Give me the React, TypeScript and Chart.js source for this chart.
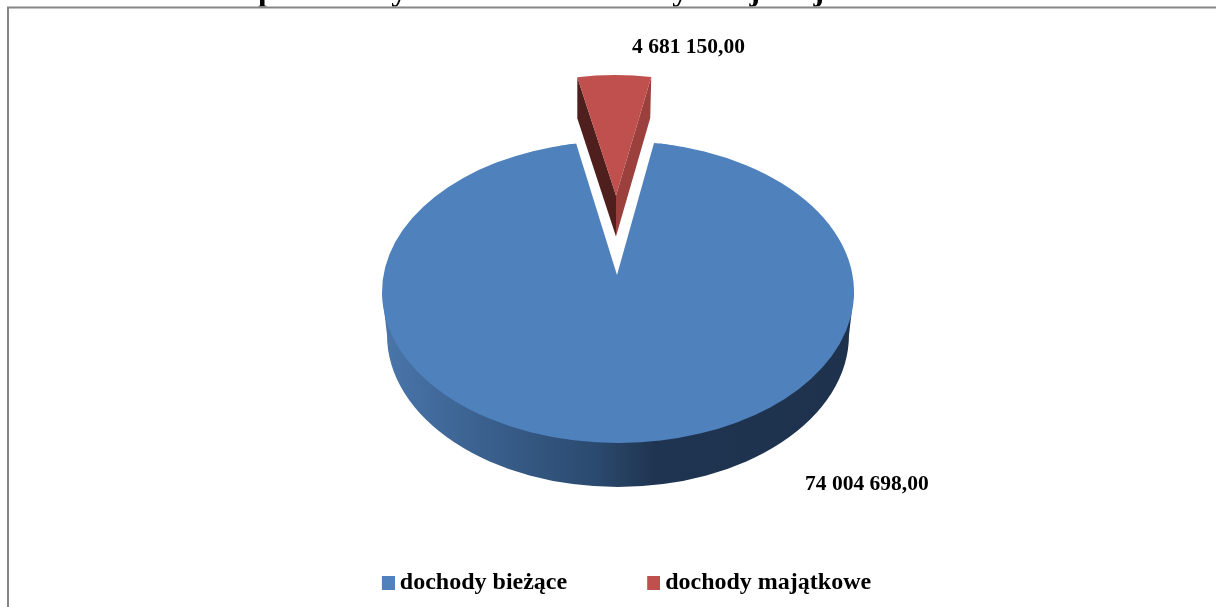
import React, { useEffect, useRef } from "react";
import { Chart, registerables } from "chart.js";

Chart.register(...registerables);

const categories = ["dochody bieżące", "dochody majątkowe"];
const values = [74004698.0, 4681150.0];
const topColors = ["#4F81BD", "#C0504D"];
const titleText = "Struktura planowanych dochodów Gminy Miejskiej Iława na 2012 rok";

const SERIF = '"Liberation Serif", serif';
const BLUE = { x: 618, y: 292, rx: 236, ry: 151 };
const BLUE_FLOOR = { x: 618, y: 335, rx: 231, ry: 152 };
const GAP = { left: [576, 143], right: [654, 143], apex: [617, 275] };
const RED = { x: 616, y: 195.5, rx: 199, ry: 120.5, depth: 41 };
const LABEL_SPOTS = [
  { x: 805, y: 490 },
  { x: 632, y: 53 },
];

function money(v: number) {
  const [i, d] = v.toFixed(2).split(".");
  return i.replace(/\B(?=(\d{3})+$)/g, " ") + "," + d;
}

function swatch(color: string) {
  const c = document.createElement("canvas");
  c.width = 15;
  c.height = 14;
  const g = c.getContext("2d")!;
  g.fillStyle = color;
  g.fillRect(2, 0, 13, 14);
  return c;
}

const pie3d = {
  id: "pie3d",
  beforeDraw(chart: any) {
    const { ctx } = chart;
    ctx.save();
    ctx.fillStyle = "#ffffff";
    ctx.fillRect(0, 0, chart.width, chart.height);
    ctx.restore();
  },
  beforeDatasetsDraw(chart: any) {
    // frame of the chart, which hides all but the top of the title's lower edge
    const { ctx } = chart;
    ctx.save();
    ctx.fillStyle = "#ffffff";
    ctx.fillRect(0, 6.5, chart.width, 12);
    ctx.strokeStyle = "#868686";
    ctx.lineWidth = 2;
    ctx.beginPath();
    ctx.moveTo(8, chart.height + 2);
    ctx.lineTo(8, 7.5);
    ctx.lineTo(chart.width + 2, 7.5);
    ctx.stroke();
    ctx.restore();
  },
  beforeDatasetDraw(chart: any, args: any) {
    const { ctx } = chart;
    const [blue, red] = chart.getDatasetMeta(args.index).data;

    // blue wall
    ctx.save();
    const grad = ctx.createLinearGradient(382, 0, 854, 0);
    grad.addColorStop(0, "#4A76AB");
    grad.addColorStop(0.2, "#3B6290");
    grad.addColorStop(0.45, "#2B4A6F");
    grad.addColorStop(0.58, "#1F3450");
    grad.addColorStop(1, "#1E324E");
    ctx.fillStyle = grad;
    ctx.beginPath();
    ctx.moveTo(BLUE.x + BLUE.rx, BLUE.y);
    ctx.lineTo(BLUE_FLOOR.x + BLUE_FLOOR.rx, BLUE_FLOOR.y);
    ctx.ellipse(BLUE_FLOOR.x, BLUE_FLOOR.y, BLUE_FLOOR.rx, BLUE_FLOOR.ry, 0, 0, Math.PI);
    ctx.lineTo(BLUE.x - BLUE.rx, BLUE.y);
    ctx.closePath();
    ctx.fill();
    ctx.restore();

    // blue top face
    ctx.save();
    ctx.translate(BLUE.x, BLUE.y);
    ctx.scale(BLUE.rx / blue.outerRadius, BLUE.ry / blue.outerRadius);
    ctx.translate(-blue.x, -blue.y);
    blue.draw(ctx);
    ctx.restore();

    // the notch of the blue face is narrower than its true sector
    ctx.save();
    ctx.beginPath();
    ctx.ellipse(BLUE.x, BLUE.y, BLUE.rx, BLUE.ry, 0, 0, Math.PI * 2);
    ctx.clip();
    ctx.fillStyle = topColors[0];
    ctx.beginPath();
    ctx.moveTo(BLUE.x - 70, BLUE.y - 170);
    ctx.lineTo(BLUE.x + 70, BLUE.y - 170);
    ctx.lineTo(BLUE.x, BLUE.y + 2);
    ctx.closePath();
    ctx.fill();
    ctx.restore();
    const ext = 1.15;
    const [ax, ay] = GAP.apex;
    ctx.save();
    ctx.fillStyle = "#ffffff";
    ctx.beginPath();
    ctx.moveTo(ax + (GAP.left[0] - ax) * ext, ay + (GAP.left[1] - ay) * ext);
    ctx.lineTo(ax, ay);
    ctx.lineTo(ax + (GAP.right[0] - ax) * ext, ay + (GAP.right[1] - ay) * ext);
    ctx.closePath();
    ctx.fill();
    ctx.restore();

    // red walls
    const corner = (a: number) => [RED.x + RED.rx * Math.cos(a), RED.y + RED.ry * Math.sin(a)];
    const [lx, ly] = corner(red.startAngle);
    const [rx, ry] = corner(red.endAngle);
    ctx.save();
    ctx.fillStyle = "#4F1F1E";
    ctx.beginPath();
    ctx.moveTo(lx, ly);
    ctx.lineTo(lx, ly + RED.depth);
    ctx.lineTo(RED.x, RED.y + RED.depth);
    ctx.lineTo(RED.x, RED.y);
    ctx.closePath();
    ctx.fill();
    ctx.fillStyle = "#9C403E";
    ctx.beginPath();
    ctx.moveTo(rx, ry);
    ctx.lineTo(rx - 1, ry + RED.depth);
    ctx.lineTo(RED.x, RED.y + RED.depth);
    ctx.lineTo(RED.x, RED.y);
    ctx.closePath();
    ctx.fill();
    ctx.restore();

    // red top face
    ctx.save();
    ctx.translate(RED.x, RED.y);
    ctx.scale(RED.rx / red.outerRadius, RED.ry / red.outerRadius);
    ctx.translate(-red.x, -red.y);
    red.draw(ctx);
    ctx.restore();
    return false;
  },
  afterDraw(chart: any) {
    const { ctx } = chart;
    ctx.save();
    ctx.fillStyle = "#000000";
    ctx.font = `bold 21.5px ${SERIF}`;
    ctx.textAlign = "left";
    ctx.textBaseline = "alphabetic";
    chart.data.datasets[0].data.forEach((v: number, i: number) => {
      ctx.fillText(money(v), LABEL_SPOTS[i].x, LABEL_SPOTS[i].y);
    });
    ctx.restore();
  },
};

export default function App() {
  const ref = useRef<HTMLCanvasElement>(null);
  useEffect(() => {
    document.body.style.margin = "0";
    const chart = new Chart(ref.current!, {
      type: "pie",
      data: {
        labels: categories,
        datasets: [{ data: values, backgroundColor: topColors, borderWidth: 0 }],
      },
      plugins: [pie3d],
      options: {
        responsive: false,
        animation: false,
        rotation: 10.2,
        layout: { padding: { left: 113, right: 71, bottom: 2 } },
        plugins: {
          tooltip: { enabled: false },
          title: {
            display: true,
            align: "start",
            text: titleText,
            color: "#000000",
            font: { family: SERIF, size: 32, weight: "bold" },
            padding: { top: -27, bottom: 0 },
          },
          legend: {
            position: "bottom",
            labels: {
              color: "#000000",
              font: { family: SERIF, size: 24, weight: "bold" },
              usePointStyle: true,
              boxWidth: 1,
              boxHeight: 1,
              padding: 85,
              generateLabels: () =>
                categories.map((text, i) => ({
                  text,
                  fillStyle: topColors[i],
                  strokeStyle: topColors[i],
                  lineWidth: 0,
                  hidden: false,
                  index: i,
                  pointStyle: swatch(topColors[i]),
                })),
            },
          },
        },
      },
    } as any);
    return () => chart.destroy();
  }, []);
  return <canvas ref={ref} width={1216} height={607} style={{ display: "block" }} />;
}
